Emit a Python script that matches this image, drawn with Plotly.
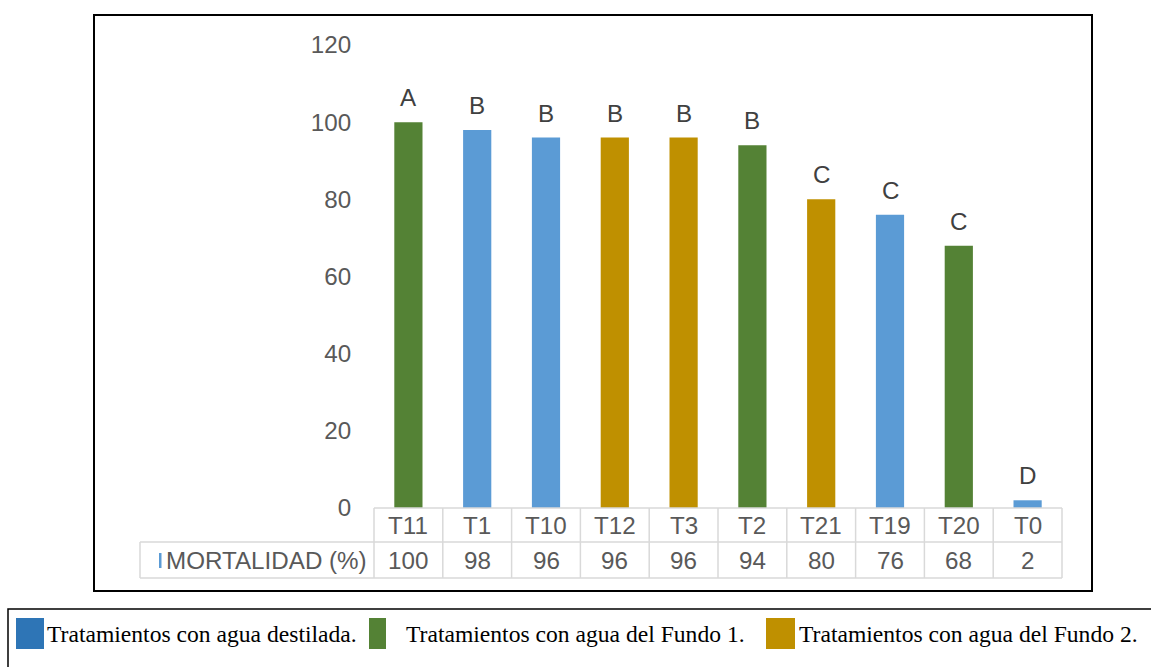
import plotly.graph_objects as go

# Treatments, mortality values, significance letters and water group
tratamientos = ["T11", "T1", "T10", "T12", "T3", "T2", "T21", "T19", "T20", "T0"]
mortalidad = [100, 98, 96, 96, 96, 94, 80, 76, 68, 2]
letras = ["A", "B", "B", "B", "B", "B", "C", "C", "C", "D"]
grupo = ["F1", "D", "D", "F2", "F2", "F1", "F2", "D", "F1", "D"]
serie = "MORTALIDAD (%)"
leyenda = [
    ("D", "Tratamientos con agua destilada."),
    ("F1", "Tratamientos con agua del Fundo 1."),
    ("F2", "Tratamientos con agua del Fundo 2."),
]

BAR_COLORS = {"D": "#5B9BD5", "F1": "#548235", "F2": "#BF9000"}
KEY_COLORS = {"D": "#2E75B6", "F1": "#548235", "F2": "#BF9000"}

W, H = 1151, 667
ML, MR, MT, MB = 374, 89, 45, 159
PW, PH = W - ML - MR, H - MT - MB
SANS = "Liberation Sans, Arial, sans-serif"
SERIF = "Liberation Serif, Times New Roman, serif"
FS = 24.2
FS_SERIF = 23.6


def px(x):
    return (x - ML) / PW


def py(y):
    return (H - MB - y) / PH


fig = go.Figure(
    go.Bar(
        x=tratamientos,
        y=mortalidad,
        marker=dict(color=[BAR_COLORS[g] for g in grupo], line=dict(width=0)),
        hoverinfo="x+y",
    )
)

shapes = []
annotations = []

# letters of significance above each bar
for t, v, l in zip(tratamientos, mortalidad, letras):
    annotations.append(dict(
        x=t, y=v, xref="x", yref="y", text=l, showarrow=False,
        yanchor="bottom", yshift=9,
        font=dict(family=SANS, size=FS, color="#404040"),
    ))

# data table under the axis
grid = dict(color="#D9D9D9", width=1.5)
row_top, row_mid, row_bot = 508, 542, 578
n = len(tratamientos)
shapes.append(dict(type="line", xref="paper", yref="paper",
                   x0=0, x1=1, y0=py(row_top), y1=py(row_top), line=grid))
shapes.append(dict(type="line", xref="paper", yref="paper",
                   x0=px(140), x1=1, y0=py(row_mid), y1=py(row_mid), line=grid))
shapes.append(dict(type="line", xref="paper", yref="paper",
                   x0=px(140), x1=1, y0=py(row_bot), y1=py(row_bot), line=grid))
shapes.append(dict(type="line", xref="paper", yref="paper",
                   x0=px(140), x1=px(140), y0=py(row_mid), y1=py(row_bot), line=grid))
for i in range(n + 1):
    xp = i / n
    shapes.append(dict(type="line", xref="paper", yref="paper",
                       x0=xp, x1=xp, y0=py(row_top), y1=py(row_bot), line=grid))

for t, v in zip(tratamientos, mortalidad):
    annotations.append(dict(
        x=t, y=py((row_top + row_mid) / 2), xref="x", yref="paper", text=t,
        showarrow=False, yanchor="middle",
        font=dict(family=SANS, size=FS, color="#595959"),
    ))
    annotations.append(dict(
        x=t, y=py((row_mid + row_bot) / 2), xref="x", yref="paper", text=str(v),
        showarrow=False, yanchor="middle",
        font=dict(family=SANS, size=FS, color="#595959"),
    ))

# series name with its small key
annotations.append(dict(
    x=px(266), y=py((row_mid + row_bot) / 2), xref="paper", yref="paper",
    text=serie, showarrow=False, xanchor="center", yanchor="middle",
    font=dict(family=SANS, size=FS, color="#595959"),
))
shapes.append(dict(type="rect", xref="paper", yref="paper",
                   x0=px(159), x1=px(161.5), y0=py(553), y1=py(568),
                   fillcolor="#5B9BD5", line=dict(width=0)))

# chart frame
shapes.append(dict(type="rect", xref="paper", yref="paper",
                   x0=px(94), x1=px(1092), y0=py(15), y1=py(591),
                   line=dict(color="black", width=2), fillcolor="rgba(0,0,0,0)"))

# legend box below the chart
shapes.append(dict(type="rect", xref="paper", yref="paper",
                   x0=px(8), x1=px(1160), y0=py(609), y1=py(680),
                   line=dict(color="black", width=1.5), fillcolor="rgba(0,0,0,0)"))

key_pos = {"D": (16, 44, 45), "F1": (369, 386, 404), "F2": (766, 795, 797)}
for g, label in leyenda:
    x0, x1, xt = key_pos[g]
    shapes.append(dict(type="rect", xref="paper", yref="paper",
                       x0=px(x0), x1=px(x1), y0=py(618), y1=py(649),
                       fillcolor=KEY_COLORS[g], line=dict(width=0)))
    annotations.append(dict(
        x=px(xt), y=py(634), xref="paper", yref="paper", text=label,
        showarrow=False, xanchor="left", yanchor="middle",
        font=dict(family=SERIF, size=FS_SERIF, color="black"),
    ))

fig.update_layout(
    width=W, height=H,
    margin=dict(l=ML, r=MR, t=MT, b=MB, pad=0),
    paper_bgcolor="white", plot_bgcolor="white",
    bargap=0.59,
    showlegend=False,
    shapes=shapes,
    annotations=annotations,
    xaxis=dict(showticklabels=False, showline=False, showgrid=False,
               zeroline=False, ticks=""),
    yaxis=dict(range=[0, 120], dtick=20, showgrid=False, showline=False,
               zeroline=False, ticks="outside", ticklen=17,
               tickcolor="rgba(0,0,0,0)",
               tickfont=dict(family=SANS, size=FS, color="#595959")),
)

fig.write_html("out.html")
